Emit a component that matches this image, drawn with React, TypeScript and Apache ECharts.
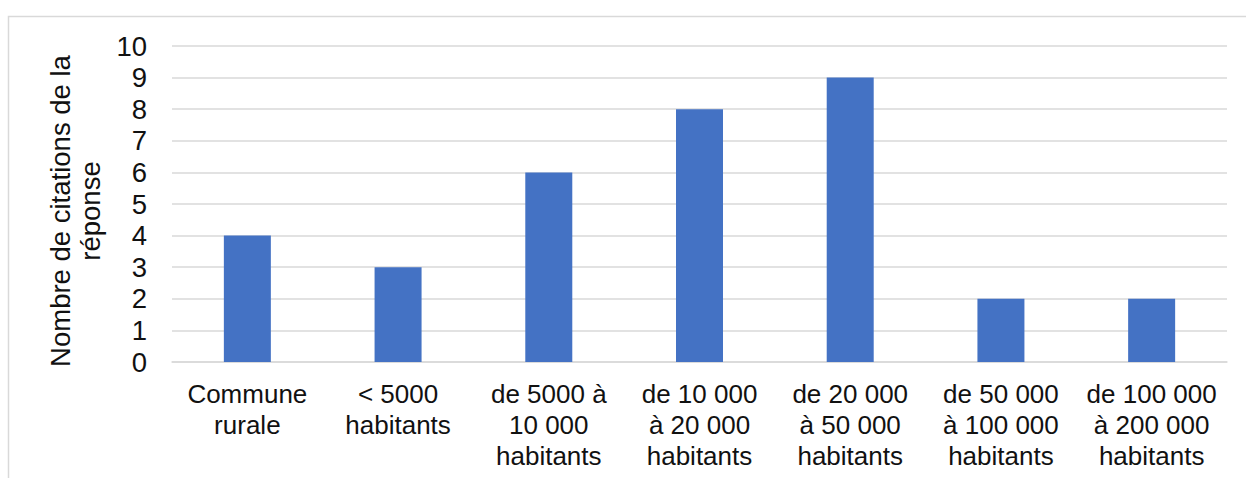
import React, { useEffect, useRef } from "react";
import * as echarts from "echarts";

const categories = [
  "Commune\nrurale",
  "< 5000\nhabitants",
  "de 5000 à\n10 000\nhabitants",
  "de 10 000\nà 20 000\nhabitants",
  "de 20 000\nà 50 000\nhabitants",
  "de 50 000\nà 100 000\nhabitants",
  "de 100 000\nà 200 000\nhabitants",
];
const values = [4, 3, 6, 8, 9, 2, 2];
const yAxisName = "Nombre de citations de la\nréponse";

const FONT = "'Liberation Sans', Arial, sans-serif";

export default function App() {
  const ref = useRef<HTMLDivElement>(null);
  useEffect(() => {
    if (!ref.current) return;
    const chart = echarts.init(ref.current, null, { renderer: "svg" });
    chart.setOption({
      animation: false,
      backgroundColor: "#ffffff",
      graphic: [
        {
          type: "rect",
          shape: { x: 8.5, y: 16.5, width: 1400, height: 700 },
          style: { fill: "none", stroke: "#d9d9d9", lineWidth: 1.5 },
          silent: true,
        },
      ],
      grid: { left: 172, right: 19, top: 46, bottom: 116, containLabel: false },
      xAxis: {
        type: "category",
        data: categories,
        axisLine: { show: true, lineStyle: { color: "#d9d9d9", width: 1.5 } },
        axisTick: { show: false },
        axisLabel: {
          interval: 0,
          margin: 16,
          color: "#111",
          fontFamily: FONT,
          fontSize: 26,
          lineHeight: 31,
          align: "center",
        },
      },
      yAxis: {
        type: "value",
        min: 0,
        max: 10,
        interval: 1,
        name: yAxisName,
        nameLocation: "middle",
        nameGap: 66,
        nameTextStyle: {
          color: "#111",
          fontFamily: FONT,
          fontSize: 27.5,
          lineHeight: 30,
          align: "center",
          padding: [0, 14, 0, 0],
        },
        axisLine: { show: false },
        axisTick: { show: false },
        splitLine: { lineStyle: { color: "#d9d9d9", width: 1.5 } },
        axisLabel: {
          margin: 25,
          color: "#111",
          fontFamily: FONT,
          fontSize: 27.5,
        },
      },
      series: [
        {
          type: "bar",
          data: values,
          barWidth: 47,
          itemStyle: { color: "#4472c4" },
        },
      ],
    });
    return () => chart.dispose();
  }, []);
  return (
    <div
      ref={ref}
      style={{ position: "fixed", left: 0, top: 0, width: 1246, height: 478 }}
    />
  );
}
